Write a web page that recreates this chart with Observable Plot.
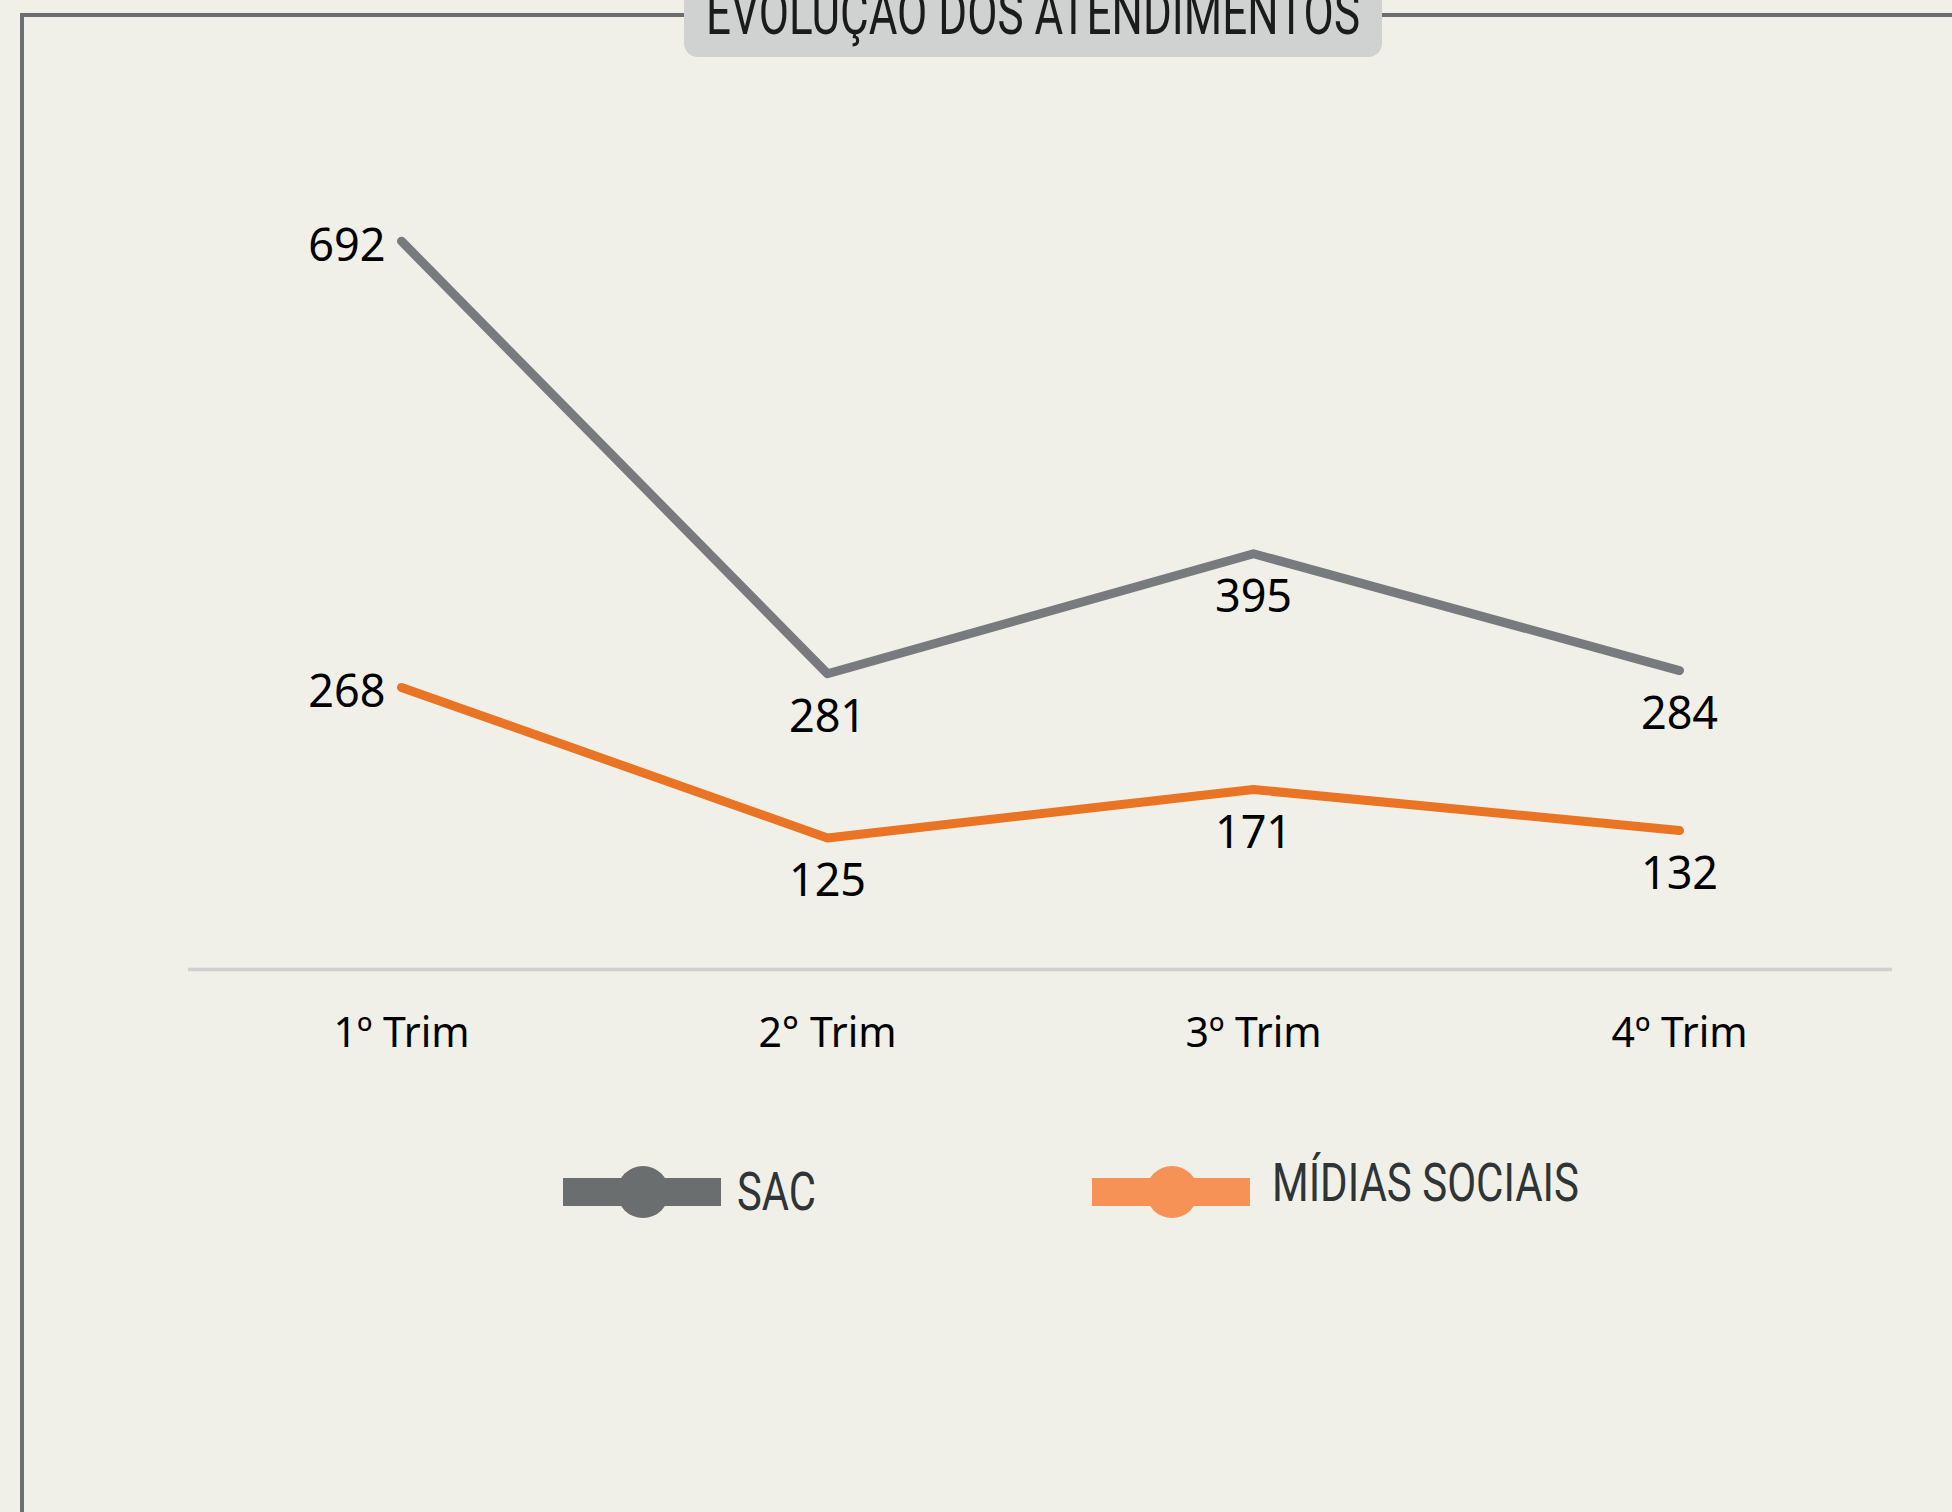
<!DOCTYPE html>
<html><head><meta charset="utf-8">
<script src="https://cdn.jsdelivr.net/npm/d3@7"></script>
<script src="https://cdn.jsdelivr.net/npm/@observablehq/plot@0.6"></script>
<style>
html,body{margin:0;padding:0;background:#f1f0e8;}
#page{position:relative;width:1952px;height:1512px;overflow:hidden;background:#f1f0e8;}
#frame{position:absolute;left:20px;top:13px;width:2000px;height:1600px;border-top:4px solid #6b6e6e;border-left:4px solid #6b6e6e;box-sizing:border-box;}
#titlebox{position:absolute;left:684px;top:-30px;width:698px;height:87px;background:#d0d2d1;border-radius:14px;}
.overlay{position:absolute;left:0;top:0;}
#chart{position:absolute;left:0;top:0;}
</style></head><body>
<div id="page">
  <div id="frame"></div>
  <div id="titlebox"></div>
  <svg id="titlesvg" class="overlay" width="1952" height="80"></svg>
  <div id="chart"></div>
  <svg id="legend" class="overlay" width="1952" height="1512"></svg>
</div>
<script>
const titleText = "EVOLUÇÃO DOS ATENDIMENTOS";
const quarters = ["1º Trim", "2° Trim", "3º Trim", "4º Trim"];
const sacValues = [692, 281, 395, 284];
const midiasValues = [268, 125, 171, 132];
const seriesNames = ["SAC", "MÍDIAS SOCIAIS"];
const lineColors = ["#777b7e", "#e87424"];
const legendColors = ["#6b6e6e", "#f79256"];

const rows = [];
[sacValues, midiasValues].forEach((vals, s) =>
  vals.forEach((v, i) => rows.push({series: seriesNames[s], quarter: quarters[i], value: v, idx: i})));

const chart = Plot.plot({
  width: 1952, height: 1100,
  marginLeft: 188, marginRight: 60, marginTop: 127, marginBottom: 131,
  style: {background: "transparent", fontFamily: "'Noto Sans', sans-serif", fontSize: "41px", color: "#000", overflow: "visible"},
  x: {type: "point", domain: quarters, padding: 0.5, label: null},
  y: {domain: [0, 800], axis: null},
  color: {domain: seriesNames, range: lineColors},
  marks: [
    Plot.ruleY([0], {stroke: "#d0d0d0", strokeWidth: 3.5}),
    Plot.axisX({tickSize: 0, tickPadding: 48, fontSize: 41, label: null}),
    Plot.line(rows, {x: "quarter", y: "value", z: "series", stroke: "series", strokeWidth: 9, strokeLinecap: "round", strokeLinejoin: "round"}),
    Plot.text(rows.filter(d => d.idx === 0), {x: "quarter", y: "value", text: d => String(d.value), textAnchor: "end", dx: -16, dy: 5, fontSize: 45, fill: "#000"}),
    Plot.text(rows.filter(d => d.idx > 0), {x: "quarter", y: "value", text: d => String(d.value), dy: 44, fontSize: 45, fill: "#000"})
  ]
});
document.getElementById("chart").appendChild(chart);

// Title
const ts = d3.select("#titlesvg");
ts.append("text").attr("x", 706).attr("y", 34)
  .attr("textLength", 654).attr("lengthAdjust", "spacingAndGlyphs")
  .style("font-family", "Roboto, sans-serif").style("font-size", "62px").style("font-weight", 400)
  .attr("fill", "#1b1b1b").text(titleText);

// Legend
const lg = d3.select("#legend");
const legendLayout = [{x: 563, textX: 737, base: 1210, w: 79}, {x: 1092, textX: 1272, base: 1201, w: 307}];
seriesNames.forEach((name, i) => {
  const L = legendLayout[i];
  lg.append("rect").attr("x", L.x).attr("y", 1178).attr("width", 158).attr("height", 28).attr("fill", legendColors[i]);
  lg.append("circle").attr("cx", L.x + 80).attr("cy", 1192).attr("r", 26).attr("fill", legendColors[i]);
  lg.append("text").attr("x", L.textX).attr("y", L.base)
    .attr("textLength", L.w).attr("lengthAdjust", "spacingAndGlyphs")
    .style("font-family", "Roboto, sans-serif").style("font-size", "53px")
    .attr("fill", "#2f3436").text(name);
});
</script>
</body></html>
